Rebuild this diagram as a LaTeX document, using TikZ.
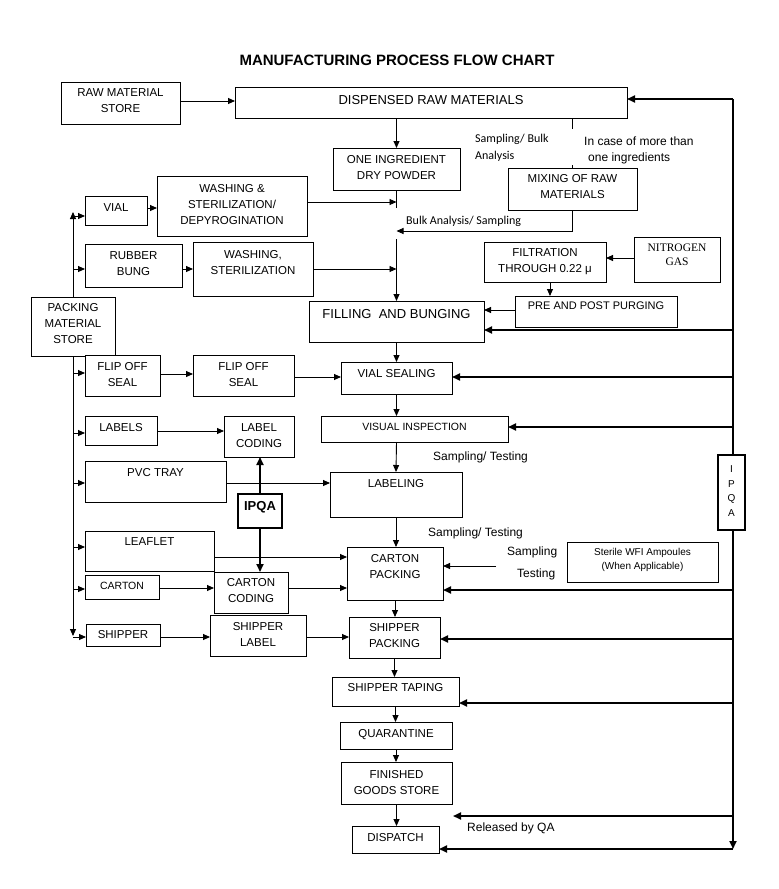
\documentclass[tikz,border=0pt]{standalone}
\usepackage{fontspec}
\setmainfont{Liberation Sans}
\newfontfamily\calfont{Carlito}
\newfontfamily\serfont{Liberation Serif}
\usetikzlibrary{arrows.meta}
\newcommand\fs[2]{\fontsize{#1}{#2}\selectfont}
\newcommand\mainsz{\fs{11.5}{16}}
\tikzset{
 box/.style={draw, line width=0.9pt, fill=white, inner sep=0pt, outer sep=0pt},
 lbl/.style={inner sep=0pt, align=center},
 arr/.style={line width=0.9pt, -{Triangle[length=7pt,width=6pt]}},
 tarr/.style={line width=1.8pt, -{Triangle[length=8pt,width=7pt]}},
 ln/.style={line width=0.9pt},
 note/.style={inner sep=0pt, align=left, anchor=west, font=\fs{12}{16}},
}
% #1 opts, #2 name, #3 x1, #4 y1, #5 x2, #6 y2, #7 text centre y, #8 font, #9 text
\newcommand\bx[9][]{%
 \pgfmathsetmacro\bw{#5-#3}\pgfmathsetmacro\bh{#6-#4}%
 \pgfmathsetmacro\bcx{(#3+#5)/2}\pgfmathsetmacro\bcy{(#4+#6)/2}%
 \pgfmathsetmacro\bdy{\bcy-#7}%
 \node[box,minimum width=\bw pt,minimum height=\bh pt,
   label={[lbl,yshift=\bdy pt,font=#8]center:{#9}},#1] (#2) at (\bcx,\bcy) {};}
\begin{document}
\begin{tikzpicture}[x=1pt,y=-1pt]
\fill[white] (0,0) rectangle (779,889);
\useasboundingbox (0,0) rectangle (779,889);

\node[font=\bfseries\fs{15}{18}] (title) at (397,60) {MANUFACTURING PROCESS FLOW CHART};

% boxes
\bx{raw}{61}{82}{180}{124}{101}{\mainsz}{RAW MATERIAL\\STORE}
\bx{disp}{235}{87}{627}{118}{100}{\fs{13}{16}}{DISPENSED RAW MATERIALS}
\bx{one}{333}{148}{460}{190}{167.5}{\mainsz}{ONE INGREDIENT\\DRY POWDER}
\bx{vial}{85}{196}{147}{225}{208}{\mainsz}{VIAL}
\bx{washa}{157}{176}{307}{236}{205}{\mainsz}{WASHING \&\\STERILIZATION/\\DEPYROGINATION}
\bx{rubber}{85}{244}{182}{287}{264}{\mainsz}{RUBBER\\BUNG}
\bx{washb}{193}{242}{313}{296}{263}{\mainsz}{WASHING,\\STERILIZATION}
\bx{pms}{31}{297}{115}{356}{324}{\mainsz}{PACKING\\MATERIAL\\STORE}
\bx{fill}{309}{301}{484}{342}{314}{\fs{13}{16}}{FILLING\ \ AND BUNGING}
\bx{mix}{508}{168}{637}{210}{187}{\mainsz}{MIXING OF RAW\\MATERIALS}
\bx{filt}{484}{242}{606}{282}{261.5}{\mainsz}{FILTRATION\\THROUGH 0.22 μ}
\bx{nit}{634}{237}{720}{282}{255}{\serfont\fs{11.5}{14}}{NITROGEN\\GAS}
\bx{pre}{515}{296}{677}{327}{306}{\fs{11}{14}}{PRE AND POST PURGING}
\bx{flipa}{85}{355}{160}{396}{375}{\mainsz}{FLIP OFF\\SEAL}
\bx{flipb}{193}{355}{294}{396}{375}{\mainsz}{FLIP OFF\\SEAL}
\bx{vs}{341}{362}{452}{394}{374}{\mainsz}{VIAL SEALING}
\bx{labels}{85}{416}{157}{445}{428}{\mainsz}{LABELS}
\bx{lcod}{224}{416}{294}{457}{435.5}{\mainsz}{LABEL\\CODING}
\bx{vi}{321}{416}{508}{442}{427}{\fs{10.5}{14}}{VISUAL INSPECTION}
\bx{pvc}{85}{461}{226}{502}{473}{\mainsz}{PVC TRAY}
\bx{lab}{330}{472}{462}{517}{484}{\mainsz}{LABELING}
\bx[line width=2pt]{ipqaa}{238}{494}{282}{528}{507}{\bfseries\fs{13}{16}}{IPQA}
\bx{leaf}{85}{531}{214}{571}{542}{\mainsz}{LEAFLET}
\bx{carton}{85}{575}{159}{599}{586}{\fs{10.5}{14}}{CARTON}
\bx{ccod}{214}{572}{288}{613}{591}{\mainsz}{CARTON\\CODING}
\bx{cp}{347}{547}{443}{600}{567}{\mainsz}{CARTON\\PACKING}
\bx{wfi}{567}{542}{718}{582}{560}{\fs{10}{14}}{Sterile WFI Ampoules\\(When Applicable)}
\bx{shipper}{86}{624}{160}{646}{635}{\mainsz}{SHIPPER}
\bx{slab}{210}{615}{306}{656}{634}{\mainsz}{SHIPPER\\LABEL}
\bx{sp}{349}{617}{440}{658}{636}{\mainsz}{SHIPPER\\PACKING}
\bx{st}{332}{677}{459}{706}{688}{\mainsz}{SHIPPER TAPING}
\bx{quar}{340}{722}{452}{749}{735}{\mainsz}{QUARANTINE}
\bx{fg}{341}{762}{452}{804}{782.5}{\mainsz}{FINISHED\\GOODS STORE}
\bx{dis}{352}{826}{439}{853}{838}{\mainsz}{DISPATCH}

% notes
\node[note, font=\calfont\fs{12}{17}] (nsb) at (475,147.5) {Sampling/ Bulk\\Analysis};
\node[note] (ncase) at (584,150) {In case of more than\\\hspace{4pt}one ingredients};
\node[note, font=\calfont\fs{12}{15}] (nbulk) at (406,221) {Bulk Analysis/ Sampling};
\node[note] (nst1) at (433,457) {Sampling/ Testing};
\node[note] (nst2) at (428,533) {Sampling/ Testing};
\node[note] (nsamp) at (507,552) {Sampling};
\node[note] (ntest) at (517,574) {Testing};
\node[note] (nrel) at (467,828) {Released by QA};

% centre column
\coordinate (ma) at (396.5,208);
\coordinate (ja) at (396.5,202);
\coordinate (jb) at (396.5,269);
\coordinate (jc) at (396.5,231);
\coordinate (mb) at (396.5,239);
\draw[arr] (raw.east |- 0,101) -- (disp.west |- 0,101);
\draw[arr] (one.north |- disp.south) -- (one.north);
\draw[ln] (one.south) -- (ma);
\draw[arr] (washa.east |- ja) -- (ja);
\draw[arr] (washb.east |- jb) -- (jb);
\draw[arr] (mix.south) |- (jc);
\draw[arr] (mb) -- (fill.north);
\draw[ln] (disp.south -| mix.north) -- ++(0,11);
\draw[ln] (mix.north) -- ++(0,-3);
\draw[arr] (nit.west |- 0,258) -- (filt.east |- 0,258);
\draw[arr] (filt.south -| 550,0) -- (pre.north -| 550,0);
\draw[arr] (pre.west |- 0,310) -- (fill.east |- 0,310);
\draw[arr] (fill.south) -- (vs.north);
\draw[arr] (vs.south) -- (vs.south |- vi.north);
\draw[arr] (vs.south |- vi.south) -- (lab.north);
\draw[arr] (lab.south) -- (lab.south |- cp.north);
\draw[arr] (cp.south) -- (cp.south |- sp.north);
\draw[arr] (sp.south) -- (sp.south |- st.north);
\draw[arr] (st.south) -- (st.south |- quar.north);
\draw[arr] (quar.south) -- (quar.south |- fg.north);
\draw[arr] (fg.south) -- (fg.south |- dis.north);

% left side
\draw[arr] (vial.east |- 0,208) -- (washa.west |- 0,208);
\draw[arr] (rubber.east |- 0,269) -- (washb.west |- 0,269);
\draw[arr] (flipa.east |- 0,374) -- (flipb.west |- 0,374);
\draw[arr] (flipb.east |- 0,377) -- (vs.west |- 0,377);
\draw[arr] (labels.east |- 0,431) -- (lcod.west |- 0,431);
\draw[arr] (pvc.east |- 0,483) -- (lab.west |- 0,483);
\draw[arr] (leaf.east |- 0,557) -- (cp.west |- 0,557);
\draw[arr] (carton.east |- 0,588) -- (ccod.west |- 0,588);
\draw[arr] (ccod.east |- 0,588) -- (cp.west |- 0,588);
\draw[arr] (shipper.east |- 0,637) -- (slab.west |- 0,637);
\draw[arr] (slab.east |- 0,637) -- (sp.west |- 0,637);
\draw[tarr] (ipqaa.north) -- (ipqaa.north |- lcod.south);
\draw[tarr] (ipqaa.south) -- (ipqaa.south |- ccod.north);

\draw[arr] (pms.north) -- (pms.north |- 0,212);
\draw[arr] (pms.south) -- (pms.south |- 0,636);
\draw[arr] (pms.north |- 0,216) -- (vial.west |- 0,216);
\draw[arr] (pms.north |- 0,269) -- (rubber.west |- 0,269);
\draw[arr] (pms.south |- 0,373) -- (flipa.west |- 0,373);
\draw[arr] (pms.south |- 0,433) -- (labels.west |- 0,433);
\draw[arr] (pms.south |- 0,483) -- (pvc.west |- 0,483);
\draw[arr] (pms.south |- 0,547) -- (leaf.west |- 0,547);
\draw[arr] (pms.south |- 0,589) -- (carton.west |- 0,589);
\draw[arr] (pms.south |- 0,637) -- (shipper.west |- 0,637);

% right side
\coordinate (rt) at (733,99);
\coordinate (rb) at (733,849);
\coordinate (rel) at (453,816);
\coordinate (samp) at (496,566);
\draw[tarr] (rt) -- (rb);
\draw[tarr] (rt) -- (disp.east |- rt);
\draw[tarr] (rb) -- (dis.east |- rb);
\draw[tarr] (rt |- 0,330) -- (fill.east |- 0,330);
\draw[tarr] (rt |- 0,377) -- (vs.east |- 0,377);
\draw[tarr] (rt |- 0,427) -- (vi.east |- 0,427);
\draw[tarr] (rt |- 0,590) -- (cp.east |- 0,590);
\draw[tarr] (rt |- 0,639) -- (sp.east |- 0,639);
\draw[tarr] (rt |- 0,703) -- (st.east |- 0,703);
\draw[tarr] (rt |- rel) -- (rel);
\draw[arr] (samp) -- (cp.east |- samp);
\bx[line width=2pt]{ipqab}{718}{455}{745}{530}{491}{\fs{10}{14.5}}{I\\P\\Q\\A}
\end{tikzpicture}
\end{document}
